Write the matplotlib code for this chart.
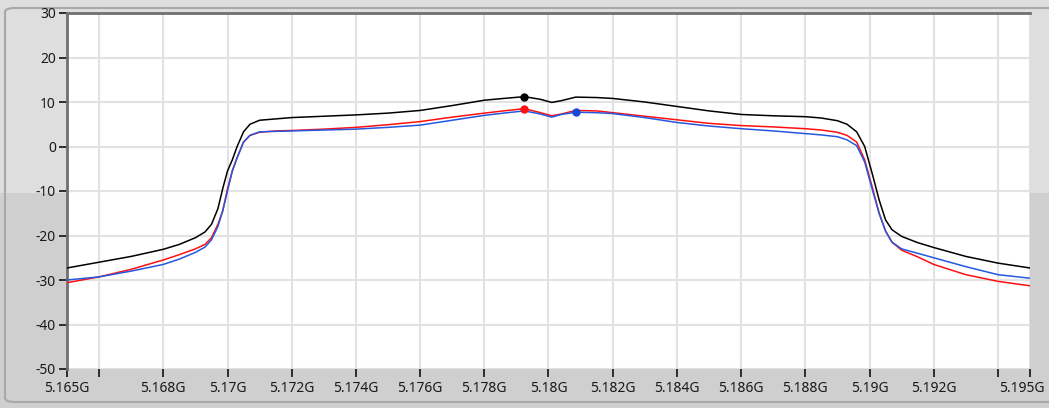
import matplotlib
matplotlib.use('Agg')
import matplotlib.pyplot as plt
from matplotlib.patches import Rectangle, FancyBboxPatch
from matplotlib.transforms import ScaledTranslation

# spectrum traces, frequency in MHz, level in dB
freq_mhz = [5165, 5166, 5167, 5168, 5168.5, 5169, 5169.3, 5169.5, 5169.7, 5169.85,
            5170, 5170.15, 5170.3, 5170.5, 5170.7, 5171, 5171.5, 5172, 5173, 5174,
            5175, 5176, 5177, 5178, 5178.6, 5179.25, 5179.75, 5180.1, 5180.4, 5180.85,
            5181.5, 5182, 5183, 5184, 5185, 5186, 5187, 5188, 5188.5, 5189,
            5189.3, 5189.6, 5189.85, 5190.1, 5190.3, 5190.5, 5190.7, 5191, 5191.5, 5192,
            5193, 5194, 5195]

black_db = [-27.3, -26.0, -24.7, -23.1, -22.0, -20.5, -19.2, -17.5, -14.0, -9.5,
            -5.5, -3.0, 0.0, 3.3, 5.0, 5.9, 6.2, 6.5, 6.8, 7.1,
            7.5, 8.1, 9.2, 10.4, 10.8, 11.2, 10.6, 9.9, 10.3, 11.1,
            11.0, 10.8, 10.0, 9.0, 8.0, 7.2, 6.9, 6.7, 6.4, 5.8,
            5.0, 3.3, 0.0, -6.5, -12.0, -16.5, -18.7, -20.2, -21.6, -22.7,
            -24.7, -26.2, -27.3]

red_db = [-30.6, -29.3, -27.6, -25.5, -24.3, -23.0, -22.0, -20.5, -17.5, -14.5,
          -9.5, -5.5, -2.5, 1.0, 2.5, 3.2, 3.5, 3.6, 3.9, 4.3,
          4.9, 5.6, 6.6, 7.5, 8.0, 8.5, 7.6, 6.9, 7.3, 8.1,
          8.0, 7.6, 6.8, 6.0, 5.2, 4.7, 4.4, 4.0, 3.7, 3.2,
          2.5, 1.0, -3.0, -9.5, -15.0, -19.0, -21.5, -23.3, -24.8, -26.5,
          -28.8, -30.3, -31.3]

blue_db = [-30.0, -29.3, -28.0, -26.5, -25.3, -23.8, -22.6, -21.0, -18.0, -14.5,
           -10.0, -5.5, -2.5, 1.0, 2.5, 3.3, 3.4, 3.5, 3.7, 3.9,
           4.3, 4.8, 5.9, 7.0, 7.5, 8.0, 7.3, 6.6, 7.2, 7.7,
           7.6, 7.4, 6.5, 5.4, 4.6, 4.0, 3.5, 2.9, 2.6, 2.2,
           1.5, 0.2, -3.5, -10.0, -15.0, -19.0, -21.5, -23.0, -24.0, -25.0,
           -27.0, -28.8, -29.6]

# peak markers (MHz, dB)
black_peak = (5179.25, 11.2)
red_peak = (5179.25, 8.5)
blue_peak = (5180.85, 7.8)

xtick_ghz = [5.165, 5.166, 5.168, 5.170, 5.172, 5.174, 5.176, 5.178, 5.180,
             5.182, 5.184, 5.186, 5.188, 5.190, 5.192, 5.194, 5.195]
xtick_labels = ['5.165G', '', '5.168G', '5.17G', '5.172G', '5.174G', '5.176G', '5.178G',
                '5.18G', '5.182G', '5.184G', '5.186G', '5.188G', '5.19G', '5.192G', '', '5.195G']
ytick_vals = [30, 20, 10, 0, -10, -20, -30, -40, -50]

plt.rcParams['font.family'] = ['Noto Sans', 'DejaVu Sans']

W, H = 1049, 408
fig = plt.figure(figsize=(W / 100, H / 100), dpi=100)
fig.patch.set_facecolor('#cfcfcf')

# two-tone panel background + rounded frame, kept behind the axes
fig.patches.append(Rectangle((0, 1 - 193 / H), 1, 193 / H, transform=fig.transFigure,
                             facecolor='#dedede', edgecolor='none', zorder=-10))
fig.patches.append(FancyBboxPatch((5 / W, 6 / H), 1.02, 1 - 14 / H, boxstyle='round,pad=0,rounding_size=0.01',
                                  transform=fig.transFigure, facecolor='none',
                                  edgecolor='#a8a8a8', linewidth=1.5, zorder=-5))

ax = fig.add_axes([67 / W, 1 - 369 / H, 963 / W, 356 / H])
ax.set_zorder(5)
ax.set_facecolor('white')

fx = [f / 1000 for f in freq_mhz]
ax.plot(fx, black_db, color='black', linewidth=1.1, zorder=3)
ax.plot(fx, red_db, color='#ff1010', linewidth=1.1, zorder=3)
ax.plot(fx, blue_db, color='#2458e0', linewidth=1.1, zorder=4)

ax.plot(black_peak[0] / 1000, black_peak[1], 'o', color='black', markersize=5, zorder=5)
ax.plot(red_peak[0] / 1000, red_peak[1], 'o', color='#ff1010', markersize=5, zorder=5)
ax.plot(blue_peak[0] / 1000, blue_peak[1], 'o', color='#1848d8', markersize=5, zorder=5)

ax.set_xlim(5.165, 5.195)
ax.set_ylim(-50, 30)
ax.set_xticks(xtick_ghz)
ax.set_xticklabels(xtick_labels)
ax.set_yticks(ytick_vals)
ax.set_yticklabels([str(v) for v in ytick_vals])

ax.grid(True, color='#e2e2e2', linewidth=1.5)
ax.set_axisbelow(True)

ax.tick_params(axis='both', direction='out', length=6, width=1.3, color='#202020',
               labelsize=10, labelcolor='#1a1a1a')
ax.tick_params(axis='x', pad=3)
ax.tick_params(axis='y', pad=2)

# last label sits a bit left so it stays inside the panel
last = ax.get_xticklabels()[-1]
last.set_transform(last.get_transform() + ScaledTranslation(-8 / 100, 0, fig.dpi_scale_trans))

for side in ['right', 'bottom']:
    ax.spines[side].set_visible(False)
ax.spines['left'].set_color('#707070')
ax.spines['left'].set_linewidth(2)
ax.spines['top'].set_color('#707070')
ax.spines['top'].set_linewidth(2)

fig.savefig('out.png', dpi=100, facecolor=fig.get_facecolor())
